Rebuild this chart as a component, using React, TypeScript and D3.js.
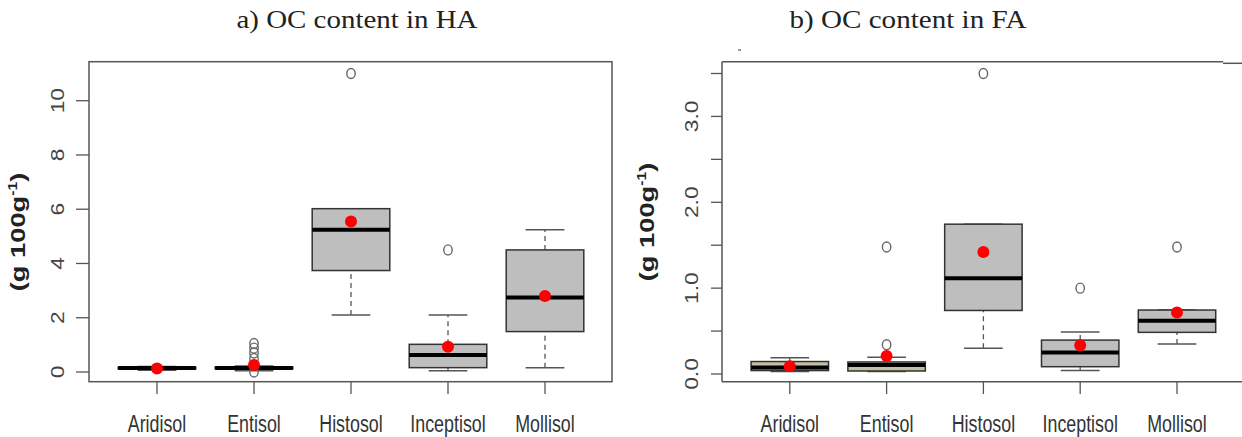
import React from 'react';
import * as d3 from 'd3';

// soil orders on the x axis
const categories = ['Aridisol', 'Entisol', 'Histosol', 'Inceptisol', 'Mollisol'];

// a) OC content in HA (g 100g-1)
const haLow = [0.06, 0.05, 2.1, 0.05, 0.16];
const haQ1 = [0.12, 0.12, 3.74, 0.16, 1.49];
const haMed = [0.15, 0.15, 5.24, 0.63, 2.75];
const haQ3 = [0.17, 0.18, 6.02, 1.02, 4.5];
const haHigh = [0.2, 0.22, 6.02, 2.1, 5.24];
const haMean = [0.13, 0.26, 5.55, 0.93, 2.8];
const haOutliers = [[], [0.0, 0.5, 0.7, 0.88, 1.05], [11.0], [4.5], []];
const haTicks = [0, 2, 4, 6, 8, 10];

// b) OC content in FA (g 100g-1)
const faLow = [0.03, 0.03, 0.3, 0.04, 0.35];
const faQ1 = [0.04, 0.035, 0.74, 0.085, 0.485];
const faMed = [0.075, 0.105, 1.115, 0.25, 0.62];
const faQ3 = [0.145, 0.14, 1.745, 0.395, 0.745];
const faHigh = [0.19, 0.195, 1.745, 0.49, 0.745];
const faMean = [0.09, 0.21, 1.42, 0.335, 0.715];
const faOutliers = [[], [0.34, 1.48], [3.5], [1.0], [1.48]];
const faTicks = [0, 0.5, 1, 1.5, 2, 2.5, 3, 3.5];
const faTickLabels = ['0.0', '', '1.0', '', '2.0', '', '3.0', ''];

const sans = 'Liberation Sans, Arial, sans-serif';

function YLabel({ x, y }) {
  return (
    <text transform={`translate(${x},${y}) rotate(-90) scale(1.3,1)`} textAnchor="middle"
      fontFamily={sans} fontWeight="bold" fontSize={21} fill="#222">
      (g 100g<tspan dy={-8} fontSize={12}>-1</tspan><tspan dy={8}>)</tspan>
    </text>
  );
}

function Panel(props) {
  const { low, q1, med, q3, high, mean, outliers, ticks, tickLabels, fills,
    xRange, yDomain, yRange, frame, tickX, labelX, tickLen } = props;

  const x = d3.scalePoint().domain(categories).range(xRange);
  const y = d3.scaleLinear().domain(yDomain).range(yRange);
  const step = (xRange[1] - xRange[0]) / (categories.length - 1);
  const bw = step * 0.8;
  const cw = bw * 0.5;

  return (
    <g>
      {frame}
      {ticks.map((t, i) => (
        <g key={'t' + i}>
          <line x1={tickX - tickLen} x2={tickX} y1={y(t)} y2={y(t)} stroke="#555" strokeWidth={1.3} />
          {tickLabels[i] !== '' &&
            <text transform={`translate(${labelX},${y(t)}) rotate(-90) scale(1.3,1)`} textAnchor="middle"
              dy="0.36em" fontFamily={sans} fontSize={17.5} fill="#444">{tickLabels[i]}</text>}
        </g>
      ))}
      {categories.map((c, i) => {
        const cx = x(c);
        return (
          <g key={c}>
            <line x1={cx} x2={cx} y1={381.7} y2={394} stroke="#555" strokeWidth={1.3} />
            <text transform={`translate(${cx},432) scale(0.76,1)`} textAnchor="middle"
              fontFamily={sans} fontSize={23.5} fill="#333">{c}</text>
            <line x1={cx} x2={cx} y1={y(q3[i])} y2={y(high[i])} stroke="#555" strokeWidth={1.3} strokeDasharray="5,4" />
            <line x1={cx} x2={cx} y1={y(low[i])} y2={y(q1[i])} stroke="#555" strokeWidth={1.3} strokeDasharray="5,4" />
            <line x1={cx - cw / 2} x2={cx + cw / 2} y1={y(high[i])} y2={y(high[i])} stroke="#555" strokeWidth={1.5} />
            <line x1={cx - cw / 2} x2={cx + cw / 2} y1={y(low[i])} y2={y(low[i])} stroke="#555" strokeWidth={1.5} />
            <rect x={cx - bw / 2} y={y(q3[i])} width={bw} height={Math.max(0.5, y(q1[i]) - y(q3[i]))}
              fill={fills[i]} stroke="#333" strokeWidth={1.5} />
            <line x1={cx - bw / 2} x2={cx + bw / 2} y1={y(med[i])} y2={y(med[i])} stroke="#000" strokeWidth={4} />
            {outliers[i].map((o, j) => (
              <ellipse key={j} cx={cx} cy={y(o)} rx={4.2} ry={5} fill="none" stroke="#666" strokeWidth={1.4} />
            ))}
            <circle cx={cx} cy={y(mean[i])} r={6} fill="#f00" />
          </g>
        );
      })}
    </g>
  );
}

export default function App() {
  const grey = '#bebebe';
  const leftFrame = (
    <rect x={89} y={61.7} width={523} height={320} fill="none" stroke="#555" strokeWidth={1.5} />
  );
  const rightFrame = (
    <g stroke="#555" strokeWidth={1.5} fill="none">
      <line x1={722} x2={722} y1={61.7} y2={381.7} />
      <line x1={722} x2={1223} y1={61.7} y2={61.7} />
      <line x1={1223} x2={1242} y1={63.3} y2={63.3} />
      <line x1={722} x2={1242} y1={381.7} y2={381.7} />
      <line x1={738} x2={741} y1={50} y2={50} strokeWidth={1.2} />
    </g>
  );

  return (
    <svg width={1242} height={437} style={{ position: 'absolute', left: 0, top: 0, background: '#fff' }}>
      <rect width={1242} height={437} fill="#fff" />
      <text x={357} y={28} textAnchor="middle" fontFamily="Liberation Serif, Times New Roman, serif"
        fontSize={25} textLength={241} lengthAdjust="spacingAndGlyphs" fill="#222">a) OC content in HA</text>
      <text x={908} y={28} textAnchor="middle" fontFamily="Liberation Serif, Times New Roman, serif"
        fontSize={25} textLength={237} lengthAdjust="spacingAndGlyphs" fill="#222">b) OC content in FA</text>

      <Panel low={haLow} q1={haQ1} med={haMed} q3={haQ3} high={haHigh} mean={haMean}
        outliers={haOutliers} ticks={haTicks} tickLabels={haTicks.map(String)}
        fills={categories.map(() => grey)}
        xRange={[157, 545]} yDomain={[0, 10]} yRange={[372, 100.7]}
        frame={leftFrame} tickX={89} labelX={58} tickLen={13} />
      <YLabel x={25} y={232} />

      <Panel low={faLow} q1={faQ1} med={faMed} q3={faQ3} high={faHigh} mean={faMean}
        outliers={faOutliers} ticks={faTicks} tickLabels={faTickLabels}
        fills={['#c4c0a4', '#c4c0a4', grey, grey, grey]}
        xRange={[789.8, 1177]} yDomain={[0, 3.5]} yRange={[374, 73.5]}
        frame={rightFrame} tickX={722} labelX={692} tickLen={11} />
      <YLabel x={654} y={222} />
    </svg>
  );
}
